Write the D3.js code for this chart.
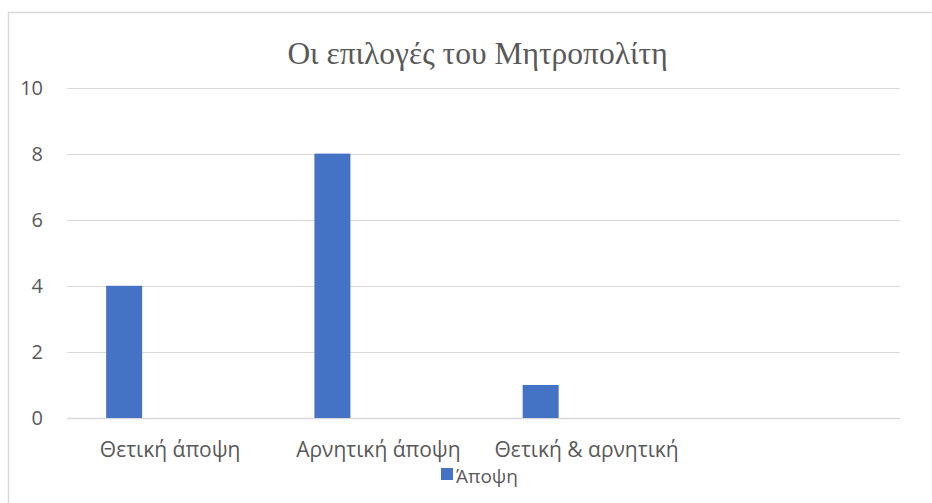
<!DOCTYPE html>
<html><head><meta charset="utf-8">
<script src="https://cdn.jsdelivr.net/npm/d3@7"></script>
<style>body{margin:0;background:#fff}svg{display:block}</style>
</head><body>
<script>
const title = "Οι επιλογές του Μητροπολίτη";
const categories = ["Θετική άποψη", "Αρνητική άποψη", "Θετική & αρνητική", ""];
const seriesName = "Άποψη";
const values = [4, 8, 1, null];
const yTicks = [0, 2, 4, 6, 8, 10];

const W = 932, H = 503;
const svg = d3.select("body").append("svg").attr("width", W).attr("height", H);
const font = "'Open Sans', 'Noto Sans', sans-serif";

// chart frame
svg.append("rect").attr("x", 8.5).attr("y", 12.5).attr("width", 940).attr("height", 500)
  .attr("fill", "#fff").attr("stroke", "#d9d9d9").attr("stroke-width", 1.5);

const x0 = d3.scaleBand().domain(categories.map((c, i) => i)).range([67, 900]).padding(0);
const bw = x0.bandwidth();
const x1 = d3.scaleBand().domain([seriesName]).range([bw * 0.188, bw * 0.188 + 36]).padding(0);
const y = d3.scaleLinear().domain([0, 10]).range([418, 87.5]);

// gridlines
svg.append("g").selectAll("line").data(yTicks).join("line")
  .attr("x1", 67).attr("x2", 900)
  .attr("y1", d => Math.round(y(d)) + 0.5).attr("y2", d => Math.round(y(d)) + 0.5)
  .attr("stroke", "#d9d9d9").attr("stroke-width", d => d === 0 ? 1.5 : 1.2);

// y labels
svg.append("g").selectAll("text").data(yTicks).join("text")
  .attr("x", 43).attr("y", d => y(d)).attr("dy", "0.36em")
  .attr("text-anchor", "end").attr("font-family", font).attr("font-size", 20)
  .attr("fill", "#595959").text(d => d);

// bars
svg.append("g").selectAll("rect").data(values.map((v, i) => ({v, i})).filter(d => d.v != null)).join("rect")
  .attr("x", d => x0(d.i) + x1(seriesName))
  .attr("width", x1.bandwidth())
  .attr("y", d => y(d.v))
  .attr("height", d => y(0) - y(d.v))
  .attr("fill", "#4472c4");

// category labels
svg.append("g").selectAll("text").data(categories).join("text")
  .attr("x", (d, i) => x0(i) + bw / 2 - 1).attr("y", 457)
  .attr("text-anchor", "middle").attr("font-family", font).attr("font-size", 21)
  .attr("fill", "#595959").text(d => d);

// title
svg.append("text").attr("x", 477.5).attr("y", 64).attr("text-anchor", "middle")
  .attr("font-family", "'Liberation Serif', 'Times New Roman', serif").attr("font-size", 31.5)
  .attr("fill", "#595959").text(title);

// legend
const lg = svg.append("g");
lg.append("rect").attr("x", 441).attr("y", 468).attr("width", 12).attr("height", 12).attr("fill", "#4472c4");
lg.append("text").attr("x", 456).attr("y", 483).attr("font-family", font).attr("font-size", 19)
  .attr("fill", "#595959").text(seriesName);
</script>
</body></html>
